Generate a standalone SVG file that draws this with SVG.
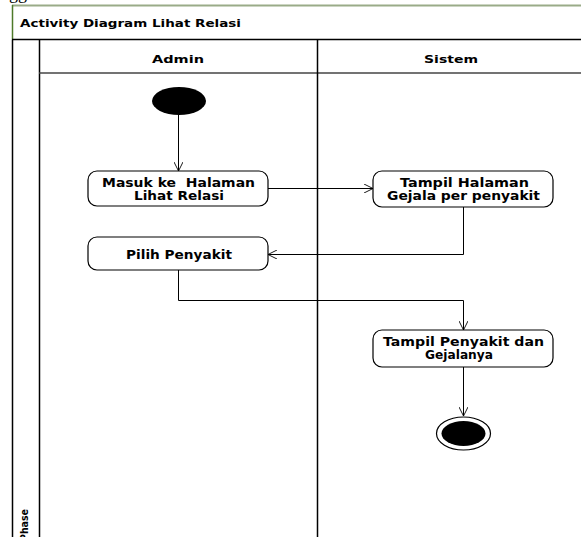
<svg xmlns="http://www.w3.org/2000/svg" width="581" height="537" viewBox="0 0 581 537">
<style>
.t{font-family:"DejaVu Sans","Liberation Sans",sans-serif;font-weight:bold;fill:#000}
.b{font-size:12.5px}
.act{fill:#fff;stroke:#000;stroke-width:1.2}
.ln{fill:none;stroke:#000;stroke-width:1.5}
.cn{fill:none;stroke:#000;stroke-width:1}
</style>
<defs>
<marker id="arr" viewBox="0 0 10 10" refX="10" refY="5" markerWidth="9" markerHeight="9" markerUnits="userSpaceOnUse" orient="auto">
<path d="M0,0 L10,5 L0,10" fill="none" stroke="#000" stroke-width="1"/>
</marker>
</defs>
<rect width="581" height="537" fill="#fff"/>
<text x="9" y="-1" font-family="Liberation Serif,serif" font-size="18">gg</text>
<g id="frame">
<line x1="12" y1="5.5" x2="581" y2="5.5" stroke="#9aab88" stroke-width="2"/>
<line x1="12.5" y1="5" x2="12.5" y2="40" stroke="#4e7a2a" stroke-width="1.5"/>
<line x1="12.5" y1="40" x2="12.5" y2="537" class="ln"/>
<line x1="12" y1="39.5" x2="581" y2="39.5" class="ln"/>
<line x1="39.5" y1="40" x2="39.5" y2="537" class="ln"/>
<line x1="39" y1="73" x2="581" y2="73" stroke="#444" stroke-width="1.5"/>
<line x1="317.5" y1="40" x2="317.5" y2="537" class="ln"/>
<text class="t" x="20" y="26.5" font-size="10.5" textLength="221" lengthAdjust="spacingAndGlyphs">Activity Diagram Lihat Relasi</text>
<text class="t" x="152" y="63" font-size="11" textLength="52" lengthAdjust="spacingAndGlyphs">Admin</text>
<text class="t" x="424" y="63" font-size="11" textLength="54" lengthAdjust="spacingAndGlyphs">Sistem</text>
<text class="t" transform="translate(28,541) rotate(-90)" font-size="11" textLength="32" lengthAdjust="spacingAndGlyphs">Phase</text>
</g>
<g id="connectors">
<path class="cn" d="M178.5,114 V171" marker-end="url(#arr)"/>
<path class="cn" d="M268,188.5 H373" marker-end="url(#arr)"/>
<path class="cn" d="M463.5,207 V254.5 H268" marker-end="url(#arr)"/>
<path class="cn" d="M178.5,270 V300.5 H463.5 V330" marker-end="url(#arr)"/>
<path class="cn" d="M463.5,367 V416" marker-end="url(#arr)"/>
</g>
<g id="start">
<ellipse cx="179" cy="101" rx="27" ry="14" fill="#000"/>
</g>
<g id="masuk">
<rect class="act" x="88" y="171" width="180" height="35" rx="9"/>
<text class="t b" x="102" y="186.5" textLength="153" lengthAdjust="spacingAndGlyphs" style="white-space:pre">Masuk ke  Halaman</text>
<text class="t b" x="134" y="200" textLength="90" lengthAdjust="spacingAndGlyphs">Lihat Relasi</text>
</g>
<g id="tampilHalaman">
<rect class="act" x="373" y="171" width="180" height="36" rx="9"/>
<text class="t b" x="400" y="186.5" textLength="129" lengthAdjust="spacingAndGlyphs">Tampil Halaman</text>
<text class="t b" x="387" y="200" textLength="153" lengthAdjust="spacingAndGlyphs">Gejala per penyakit</text>
</g>
<g id="pilih">
<rect class="act" x="88" y="237" width="180" height="33" rx="9"/>
<text class="t b" x="126" y="258.5" textLength="106" lengthAdjust="spacingAndGlyphs">Pilih Penyakit</text>
</g>
<g id="tampilPenyakit">
<rect class="act" x="373" y="330" width="180" height="37" rx="9"/>
<text class="t b" x="383" y="345.5" textLength="161" lengthAdjust="spacingAndGlyphs">Tampil Penyakit dan</text>
<text class="t b" x="425" y="359" textLength="68" lengthAdjust="spacingAndGlyphs">Gejalanya</text>
</g>
<g id="end">
<ellipse cx="463.5" cy="433.5" rx="27" ry="16.5" fill="#fff" stroke="#000" stroke-width="1.2"/>
<ellipse cx="463.5" cy="433.5" rx="22" ry="12.5" fill="#000"/>
</g>
</svg>
